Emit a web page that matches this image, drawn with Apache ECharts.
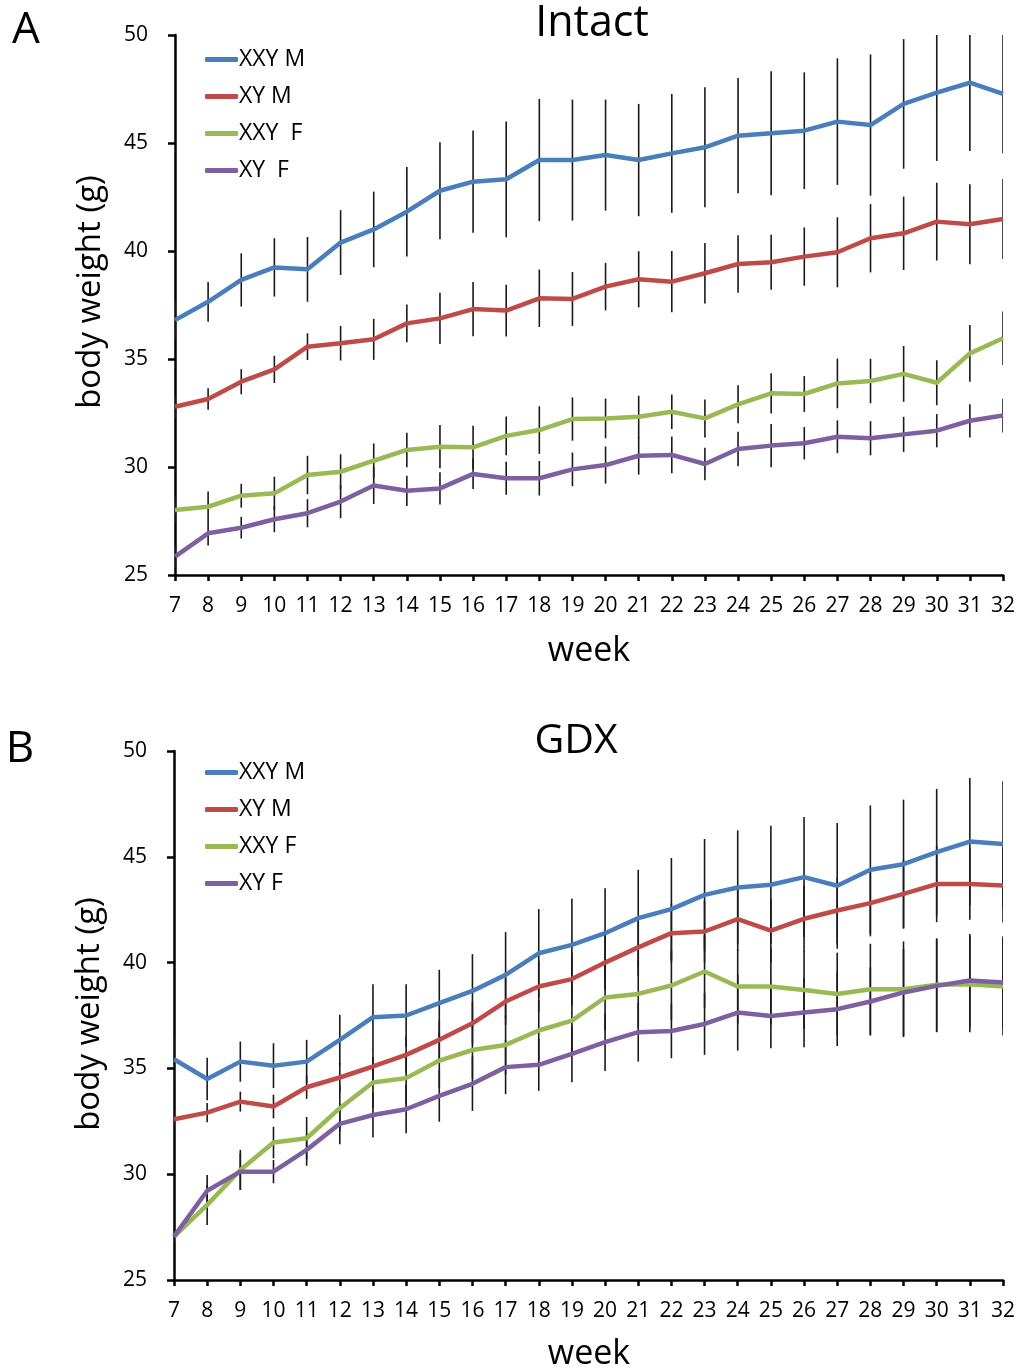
<!DOCTYPE html>
<html>
<head>
<meta charset="utf-8">
<script src="https://cdn.jsdelivr.net/npm/echarts@6/dist/echarts.min.js"></script>
<style>
  html, body { margin: 0; padding: 0; background: #fff; }
  #chart { width: 1020px; height: 1371px; }
</style>
</head>
<body>
<div id="chart"></div>
<script>
// Weeks of age on the x axis
const weeks = [7, 8, 9, 10, 11, 12, 13, 14, 15, 16, 17, 18, 19, 20, 21, 22, 23, 24, 25, 26, 27, 28, 29, 30, 31, 32];
const yTicks = [25, 30, 35, 40, 45, 50];

// Panel A: intact mice, mean body weight (g) and error
const intactXXYM = [36.8, 37.65, 38.66, 39.24, 39.15, 40.39, 41.0, 41.82, 42.79, 43.21, 43.32, 44.21, 44.21, 44.44, 44.21, 44.52, 44.8, 45.34, 45.45, 45.57, 45.99, 45.83, 46.81, 47.33, 47.79, 47.27];
const intactXXYMErr = [0.9, 0.92, 1.23, 1.35, 1.5, 1.5, 1.75, 2.07, 2.25, 2.37, 2.68, 2.83, 2.8, 2.57, 2.6, 2.75, 2.78, 2.67, 2.87, 2.7, 2.93, 3.27, 3.0, 3.16, 3.16, 2.75];
const intactXYM = [32.79, 33.15, 33.95, 34.52, 35.57, 35.73, 35.91, 36.65, 36.88, 37.31, 37.24, 37.81, 37.78, 38.35, 38.69, 38.58, 38.97, 39.4, 39.48, 39.74, 39.94, 40.59, 40.82, 41.36, 41.24, 41.48];
const intactXYMErr = [0.5, 0.5, 0.58, 0.63, 0.62, 0.8, 0.95, 0.87, 1.19, 1.26, 1.2, 1.33, 1.25, 1.1, 1.3, 1.42, 1.4, 1.33, 1.27, 1.35, 1.62, 1.58, 1.7, 1.8, 1.85, 1.85];
const intactXXYF = [28.01, 28.16, 28.67, 28.78, 29.63, 29.78, 30.29, 30.79, 30.94, 30.91, 31.44, 31.71, 32.22, 32.25, 32.33, 32.56, 32.25, 32.9, 33.41, 33.38, 33.87, 33.98, 34.31, 33.9, 35.26, 35.96];
const intactXXYFErr = [0.6, 0.7, 0.55, 0.77, 0.89, 0.81, 0.8, 0.8, 1.0, 1.0, 0.9, 1.1, 1.0, 0.92, 0.97, 0.8, 0.88, 0.88, 0.93, 0.83, 1.15, 1.03, 1.29, 1.04, 1.31, 1.24];
const intactXYF = [25.85, 26.93, 27.19, 27.58, 27.86, 28.4, 29.14, 28.9, 29.01, 29.68, 29.48, 29.48, 29.89, 30.09, 30.52, 30.56, 30.14, 30.83, 30.99, 31.1, 31.4, 31.33, 31.51, 31.68, 32.14, 32.38];
const intactXYFErr = [0.5, 0.56, 0.5, 0.6, 0.65, 0.77, 0.85, 0.7, 0.75, 0.7, 0.76, 0.8, 0.78, 0.86, 0.87, 0.85, 0.75, 0.8, 1.0, 0.75, 0.76, 0.79, 0.81, 0.77, 0.77, 0.78];

// Panel B: gonadectomized mice
const gdxXXYM = [35.43, 34.5, 35.32, 35.13, 35.32, 36.35, 37.42, 37.5, 38.08, 38.66, 39.42, 40.44, 40.84, 41.39, 42.1, 42.53, 43.2, 43.55, 43.68, 44.04, 43.63, 44.39, 44.65, 45.22, 45.72, 45.6];
const gdxXXYMErr = [1.0, 1.0, 0.95, 1.06, 1.03, 1.18, 1.56, 1.48, 1.58, 1.74, 2.02, 2.09, 2.19, 2.12, 2.29, 2.41, 2.64, 2.7, 2.79, 2.84, 2.97, 3.04, 3.05, 2.99, 3.0, 2.97];
const gdxXYM = [32.6, 32.91, 33.43, 33.2, 34.11, 34.57, 35.09, 35.64, 36.35, 37.13, 38.16, 38.87, 39.22, 40.0, 40.72, 41.39, 41.47, 42.05, 41.51, 42.07, 42.46, 42.81, 43.25, 43.71, 43.72, 43.64];
const gdxXYMErr = [0.4, 0.45, 0.47, 0.56, 0.55, 0.7, 0.8, 0.85, 0.9, 1.0, 1.1, 1.2, 1.25, 1.3, 1.35, 1.4, 1.45, 1.5, 1.5, 1.55, 1.55, 1.57, 1.6, 1.8, 1.7, 1.74];
const gdxXXYF = [27.05, 28.55, 30.2, 31.5, 31.7, 33.12, 34.33, 34.54, 35.37, 35.87, 36.11, 36.79, 37.26, 38.35, 38.52, 38.92, 39.58, 38.87, 38.87, 38.71, 38.52, 38.74, 38.74, 38.95, 38.98, 38.87];
const gdxXXYFErr = [0.3, 0.95, 0.95, 0.75, 1.0, 1.1, 1.2, 1.25, 1.3, 1.35, 1.4, 1.45, 1.5, 1.55, 1.6, 1.65, 1.7, 1.75, 1.8, 1.85, 1.95, 2.15, 2.26, 2.2, 2.27, 2.32];
const gdxXYF = [27.05, 29.22, 30.12, 30.12, 31.15, 32.38, 32.8, 33.07, 33.7, 34.27, 35.06, 35.17, 35.69, 36.24, 36.71, 36.77, 37.1, 37.64, 37.48, 37.64, 37.8, 38.16, 38.59, 38.9, 39.15, 39.06];
const gdxXYFErr = [0.3, 0.74, 0.86, 0.55, 0.75, 0.96, 1.06, 1.14, 1.22, 1.28, 1.28, 1.23, 1.34, 1.36, 1.39, 1.29, 1.46, 1.8, 1.53, 1.64, 1.74, 1.61, 2.05, 2.19, 2.2, 2.18];

const namesA = ['XXY M', 'XY M', 'XXY  F', 'XY  F'];
const namesB = ['XXY M', 'XY M', 'XXY F', 'XY F'];
const colors = ['#4A7EBB', '#BE4B48', '#98B954', '#7D60A0'];

const FONT = 'Open Sans';

function lineSeries(name, values, color, axisIndex) {
  return {
    name: name,
    type: 'line',
    xAxisIndex: axisIndex,
    yAxisIndex: axisIndex,
    data: values,
    symbol: 'none',
    color: color,
    lineStyle: { width: 4.5, color: color },
    itemStyle: { color: color },
    z: 3,
    silent: true
  };
}

// Vertical error bars (mean ± error), drawn beneath the lines
function errorSeries(name, values, errs, axisIndex) {
  return {
    name: name + ' error',
    type: 'custom',
    xAxisIndex: axisIndex,
    yAxisIndex: axisIndex,
    clip: true,
    z: 2,
    silent: true,
    data: values.map((v, i) => [i, v - errs[i], v + errs[i]]),
    encode: { x: 0, y: [1, 2] },
    renderItem: function (params, api) {
      const a = api.coord([api.value(0), api.value(1)]);
      const b = api.coord([api.value(0), api.value(2)]);
      return {
        type: 'line',
        shape: { x1: a[0], y1: a[1], x2: b[0], y2: b[1] },
        style: { stroke: '#1a1a1a', lineWidth: 1.6 }
      };
    }
  };
}

function xAxisFor(gridIndex) {
  return {
    type: 'category',
    gridIndex: gridIndex,
    data: weeks.map(String),
    boundaryGap: false,
    axisLine: { lineStyle: { color: '#000', width: 2.5 } },
    axisTick: { show: true, length: 6, interval: 0, lineStyle: { color: '#000', width: 2.5 } },
    axisLabel: { interval: 0, color: '#000', fontSize: 21, fontFamily: FONT, margin: 21 },
    splitLine: { show: false }
  };
}

function yAxisFor(gridIndex) {
  return {
    type: 'value',
    gridIndex: gridIndex,
    min: yTicks[0],
    max: yTicks[yTicks.length - 1],
    interval: 5,
    axisLine: { show: true, lineStyle: { color: '#000', width: 2.5 } },
    axisTick: { show: true, length: 7, lineStyle: { color: '#000', width: 2.5 } },
    axisLabel: { color: '#000', fontSize: 21, fontFamily: FONT, margin: 27 },
    splitLine: { show: false }
  };
}

function legendFor(names, top) {
  return {
    data: names,
    orient: 'vertical',
    left: 200,
    top: top,
    icon: 'roundRect',
    itemWidth: 33,
    itemHeight: 5,
    itemGap: 14,
    selectedMode: false,
    textStyle: { color: '#000', fontSize: 23, fontFamily: FONT, lineHeight: 23, padding: [0, 0, 0, -4] }
  };
}

function textEl(text, x, y, size, rotation) {
  return {
    type: 'text',
    x: x,
    y: y,
    rotation: rotation || 0,
    silent: true,
    style: {
      text: text,
      fill: '#000',
      font: size + 'px "' + FONT + '"',
      textAlign: 'center',
      textVerticalAlign: 'middle'
    }
  };
}

const seriesA = [intactXXYM, intactXYM, intactXXYF, intactXYF];
const errsA = [intactXXYMErr, intactXYMErr, intactXXYFErr, intactXYFErr];
const seriesB = [gdxXXYM, gdxXYM, gdxXXYF, gdxXYF];
const errsB = [gdxXXYMErr, gdxXYMErr, gdxXXYFErr, gdxXYFErr];

const series = [];
seriesA.forEach((vals, k) => series.push(lineSeries(namesA[k], vals, colors[k], 0)));
seriesB.forEach((vals, k) => series.push(lineSeries(namesB[k], vals, colors[k], 1)));
seriesA.forEach((vals, k) => series.push(errorSeries(namesA[k], vals, errsA[k], 0)));
seriesB.forEach((vals, k) => series.push(errorSeries(namesB[k], vals, errsB[k], 1)));

const chart = echarts.init(document.getElementById('chart'), null, { renderer: 'canvas' });
chart.setOption({
  animation: false,
  backgroundColor: '#fff',
  grid: [
    { left: 175, right: 17, top: 35, height: 540 },
    { left: 174, right: 17, top: 751, height: 529 }
  ],
  xAxis: [xAxisFor(0), xAxisFor(1)],
  yAxis: [yAxisFor(0), yAxisFor(1)],
  legend: [legendFor(namesA, 43), legendFor(namesB, 756)],
  graphic: [
    textEl('A', 26, 30, 44),
    textEl('B', 20, 749, 44),
    textEl('Intact', 592, 24, 43),
    textEl('GDX', 576, 741, 41),
    textEl('week', 589, 651, 34),
    textEl('week', 589, 1354, 34),
    textEl('body weight (g)', 91, 292, 33, Math.PI / 2),
    textEl('body weight (g)', 90, 1014, 33, Math.PI / 2)
  ],
  series: series
});
</script>
</body>
</html>
